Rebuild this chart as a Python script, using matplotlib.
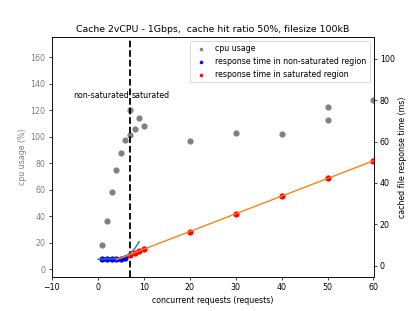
import matplotlib
matplotlib.use("Agg")
import matplotlib.pyplot as plt

plt.rcParams['font.size'] = 8.7
plt.rcParams['axes.titlesize'] = 10.4

# CPU usage (left axis)
cpu_x = [1, 2, 3, 4, 5, 6, 7, 7, 8, 9, 10, 20, 30, 40, 50, 50, 60]
cpu_y = [18.3, 36.6, 57.9, 75.2, 87.7, 97.8, 101.6, 120.4, 105.8, 113.8, 108.0, 96.5, 102.6, 102.0, 112.9, 122.6, 127.4]

# response time (right axis)
ns_x = [1, 2, 3, 4, 5, 6]
ns_y = [3.2, 3.2, 3.3, 3.3, 3.5, 4.0]
sat_x = [7, 8, 9, 10, 20, 30, 40, 50, 60]
sat_y = [5.3, 6.2, 7.1, 8.0, 16.5, 24.9, 33.6, 42.2, 50.7]

# fitted curves
ns_fit_x = [0, 1, 2, 3, 4, 5, 6, 7, 8, 9]
ns_fit_y = [3.2, 3.2, 3.3, 3.4, 3.6, 4.0, 4.8, 6.0, 8.2, 11.7]
sat_fit_x = [4, 60]
sat_fit_y = [2.9, 50.7]

cpu_ticks = [0, 20, 40, 60, 80, 100, 120, 140, 160]
threshold = 7

fig, ax = plt.subplots(figsize=(415/65, 311/65), dpi=65)
ax2 = ax.twinx()

h1 = ax.scatter(cpu_x, cpu_y, color='gray', s=34, label='cpu usage')
ax.axvline(threshold, color='black', linestyle='--', linewidth=2)
ax.text(threshold - 0.3, 131, 'non-saturated', ha='right', va='center')
ax.text(threshold + 0.3, 131, 'saturated', ha='left', va='center')
ax.set_xlim(-10, 60)
ax.set_ylim(-5.8, 175)
ax.set_yticks(cpu_ticks)
ax.set_xlabel('concurrent requests (requests)')
ax.set_ylabel('cpu usage (%)', color='gray')
ax.tick_params(axis='y', labelcolor='gray')

ax2.plot(ns_fit_x, ns_fit_y, color='tab:blue')
ax2.plot(sat_fit_x, sat_fit_y, color='tab:orange')
h2 = ax2.scatter(ns_x, ns_y, color='blue', s=34, label='response time in non-saturated region')
h3 = ax2.scatter(sat_x, sat_y, color='red', s=34, label='response time in saturated region')
ax2.set_ylim(-5.3, 110.3)
ax2.set_ylabel('cached file response time (ms)')

ax2.legend(handles=[h1, h2, h3], loc='upper right', markerscale=0.5)
ax.set_title('Cache 2vCPU - 1Gbps,  cache hit ratio 50%, filesize 100kB')

fig.savefig('out.png', dpi=65)
